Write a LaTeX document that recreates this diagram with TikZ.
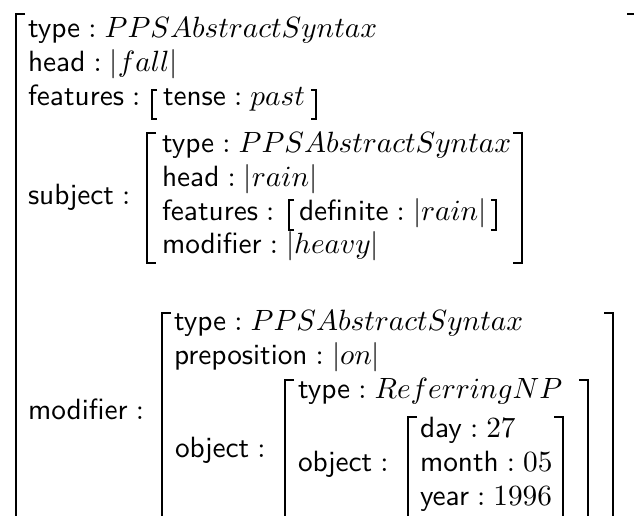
\documentclass[tikz,border=0pt]{standalone}
\usepackage{amsmath}
% square brackets of an attribute-value matrix:
% \avmL{x}{top}{bottom}{hook} opens, \avmR{x}{top}{bottom}{hook} closes
\newcommand\avmL[4]{\draw[brk] ({#1+#4},#2) -- (#1,#2) -- (#1,#3) -- ({#1+#4},#3);}
\newcommand\avmR[4]{\draw[brk] ({#1-#4},#2) -- (#1,#2) -- (#1,#3) -- ({#1-#4},#3);}
\begin{document}
\begin{tikzpicture}[x=0.3413pt,y=-0.3413pt,
  lbl/.style={anchor=base west,inner sep=0pt,outer sep=0pt},
  brk/.style={line width=0.8pt,line join=miter}]
\useasboundingbox (0,0) rectangle (634,515);
\clip (0,0) rectangle (634,515);

% outer matrix
\avmL{16}{14}{560}{9}
\avmR{637}{14}{560}{10}
\node[lbl] (t0) at (28,37) {$\textsf{type} : PPSAbstractSyntax$};
\node[lbl] (h0) at (28,71) {$\textsf{head} : |fall|$};
\node[lbl] (f0) at (28,105) {$\textsf{features} :$};
\avmL{152}{90}{119}{5}
\node[lbl] (f0v) at (163,105) {$\textsf{tense} : past$};
\avmR{316}{90}{119}{5}

% subject
\node[lbl] (s0) at (28,204) {$\textsf{subject} :$};
\avmL{147}{133}{263}{9}
\avmR{522}{133}{263}{9}
\node[lbl] (st) at (162,152) {$\textsf{type} : PPSAbstractSyntax$};
\node[lbl] (sh) at (162,186) {$\textsf{head} : |rain|$};
\node[lbl] (sf) at (162,220) {$\textsf{features} :$};
\avmL{289}{200}{230}{5}
\node[lbl] (sfv) at (299,220) {$\textsf{definite} : |rain|$};
\avmR{496}{200}{230}{5}
\node[lbl] (sm) at (162,253) {$\textsf{modifier} : |heavy|$};

% modifier
\node[lbl] (m0) at (28,419) {$\textsf{modifier} :$};
\avmL{162}{313}{560}{9}
\avmR{613}{313}{560}{9}
\node[lbl] (mt) at (174,330) {$\textsf{type} : PPSAbstractSyntax$};
\node[lbl] (mp) at (174,364) {$\textsf{preposition} : |on|$};
\node[lbl] (mo) at (175,457) {$\textsf{object} :$};

% object
\avmL{285}{380}{560}{9}
\avmR{588}{380}{560}{9}
\node[lbl] (ot) at (298,398) {$\textsf{type} : ReferringNP$};
\node[lbl] (oo) at (298,471) {$\textsf{object} :$};

% date
\avmL{408}{417}{560}{9}
\avmR{563}{417}{560}{9}
\node[lbl] (dd) at (420,437) {$\textsf{day} : 27$};
\node[lbl] (dm) at (420,471) {$\textsf{month} : 05$};
\node[lbl] (dy) at (420,505) {$\textsf{year} : 1996$};
\end{tikzpicture}
\end{document}
